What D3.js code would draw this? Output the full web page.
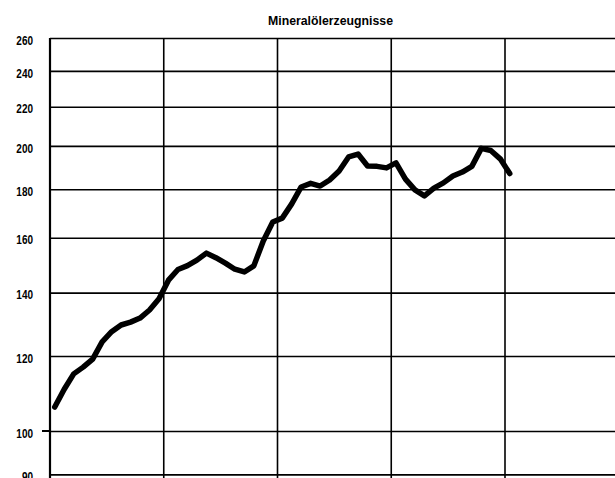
<!DOCTYPE html>
<html>
<head>
<meta charset="utf-8">
<script src="https://cdn.jsdelivr.net/npm/d3@7/dist/d3.min.js"></script>
<style>
html, body { margin: 0; padding: 0; background: #fff; }
svg { display: block; }
.lbl { font-family: "Liberation Sans", Arial, sans-serif; font-weight: bold; }
</style>
</head>
<body>
<script>
// ---- data ----
const title = "Mineralölerzeugnisse";
// monthly index (0 = Jan of first year) ... 48 = Jan of fifth year
const months = d3.range(0, 49);
const values = [
  106.0, 110.7, 114.9, 116.8, 119.1, 124.2, 127.3, 129.4, 130.3, 131.6, 134.2, 137.9,
  144.3, 148.1, 149.5, 151.5, 154.1, 152.4, 150.4, 148.2, 147.2, 149.4, 158.7, 166.2,
  167.8, 173.7, 181.0, 182.6, 181.4, 184.1, 188.2, 194.7, 196.1, 190.5, 190.3, 189.6,
  191.9, 184.5, 179.7, 177.1, 180.5, 182.8, 185.9, 187.7, 190.3, 198.8, 197.8, 193.8,
  187.0
];
const yTicks = [90, 100, 120, 140, 160, 180, 200, 220, 240, 260];
const yearBounds = [-0.5, 11.5, 23.5, 35.5, 47.5];

// ---- layout ----
const W = 615, H = 478;
const svg = d3.select("body").append("svg").attr("width", W).attr("height", H);

const x = d3.scaleLinear().domain([-0.5, 47.5]).range([50, 505]);
const y = d3.scaleLog().domain([100, 260]).range([431, 38]);
const plotL = 50, plotR = W, plotT = y(260), plotB = H;
const sx = 0.8;

// horizontal grid + labels via axis
const yAxis = d3.axisLeft(y)
  .tickValues(yTicks)
  .tickFormat(d3.format("d"))
  .tickSize(-(plotR - plotL))
  .tickPadding(17);
const gy = svg.append("g").attr("transform", `translate(${plotL},0)`).call(yAxis);
gy.select(".domain").remove();
gy.selectAll(".tick line").attr("stroke", "#000").attr("stroke-width", 1.6);
gy.selectAll(".tick text")
  .attr("class", "lbl")
  .attr("font-size", 12.5)
  .attr("fill", "#000")
  .attr("x", -17 / sx)
  .attr("dy", "0.5em")
  .attr("transform", `scale(${sx},1)`);

// extended tick for 100
svg.append("line")
  .attr("x1", 42).attr("x2", plotL)
  .attr("y1", y(100)).attr("y2", y(100))
  .attr("stroke", "#000").attr("stroke-width", 2);

// vertical grid
svg.append("g").selectAll("line").data(yearBounds).join("line")
  .attr("x1", d => x(d)).attr("x2", d => x(d))
  .attr("y1", plotT).attr("y2", plotB)
  .attr("stroke", "#000")
  .attr("stroke-width", (d, i) => i === 0 ? 2.2 : 1.6);

// title
svg.append("text")
  .attr("class", "lbl")
  .attr("x", 268).attr("y", 25)
  .attr("font-size", 13.5)
  .attr("textLength", 125)
  .attr("lengthAdjust", "spacingAndGlyphs")
  .text(title);

// line
const line = d3.line()
  .x((d, i) => x(months[i]))
  .y(d => y(d))
  .curve(d3.curveLinear);
svg.append("path")
  .datum(values)
  .attr("d", line)
  .attr("fill", "none")
  .attr("stroke", "#000")
  .attr("stroke-width", 5.5)
  .attr("stroke-linejoin", "round")
  .attr("stroke-linecap", "round");
</script>
</body>
</html>
